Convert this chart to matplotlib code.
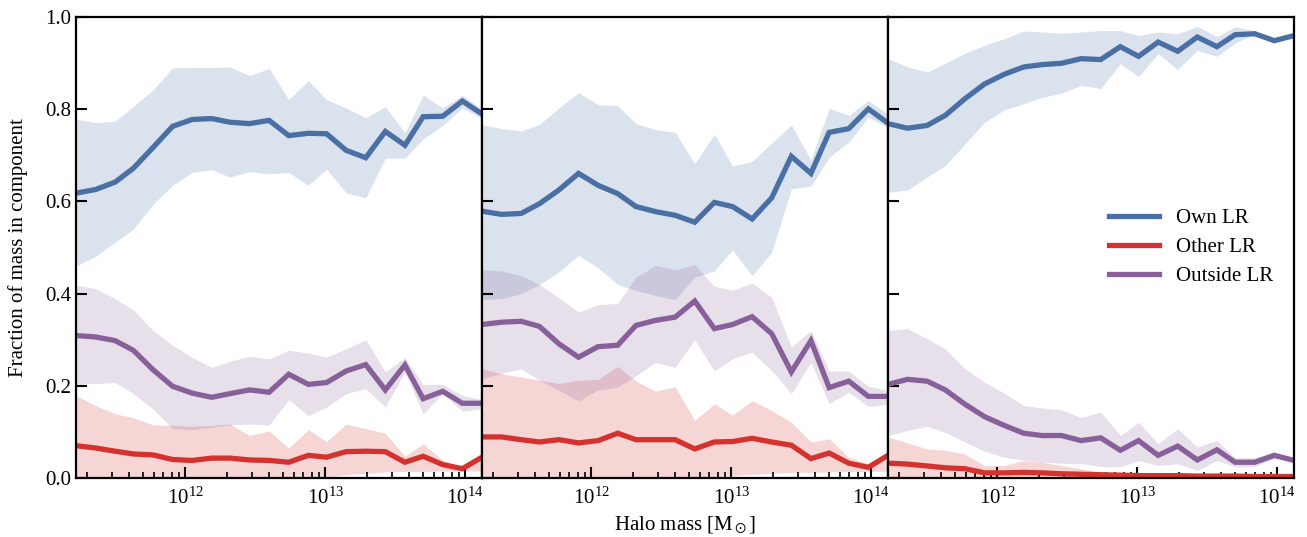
import matplotlib
matplotlib.use("Agg")
import matplotlib.pyplot as plt
import numpy as np

plt.rcParams['font.family'] = ['Liberation Serif', 'DejaVu Serif']
plt.rcParams['mathtext.fontset'] = 'stix'

# halo mass bin centres (log10 Msun), shared by all three panels
log_mass = [11.22, 11.36, 11.50, 11.63, 11.77, 11.91, 12.05, 12.19, 12.32, 12.46, 12.60,
            12.74, 12.88, 13.01, 13.15, 13.29, 13.43, 13.57, 13.70, 13.84, 13.98, 14.12]

# panel 1
own1_med = [0.618, 0.626, 0.642, 0.672, 0.717, 0.763, 0.778, 0.780, 0.772, 0.769, 0.776,
            0.743, 0.748, 0.747, 0.711, 0.695, 0.752, 0.722, 0.784, 0.785, 0.818, 0.790]
own1_hi = [0.779, 0.771, 0.774, 0.806, 0.842, 0.890, 0.891, 0.891, 0.892, 0.873, 0.889,
           0.821, 0.862, 0.821, 0.803, 0.782, 0.806, 0.749, 0.831, 0.803, 0.831, 0.800]
own1_lo = [0.460, 0.481, 0.512, 0.540, 0.594, 0.635, 0.663, 0.669, 0.653, 0.665, 0.660,
           0.663, 0.635, 0.670, 0.619, 0.608, 0.694, 0.694, 0.736, 0.765, 0.803, 0.780]
oth1_med = [0.070, 0.065, 0.058, 0.052, 0.050, 0.040, 0.038, 0.043, 0.043, 0.039, 0.038,
            0.034, 0.049, 0.045, 0.057, 0.058, 0.057, 0.034, 0.047, 0.029, 0.020, 0.045]
oth1_hi = [0.179, 0.157, 0.139, 0.131, 0.115, 0.114, 0.112, 0.114, 0.117, 0.092, 0.102,
           0.065, 0.105, 0.079, 0.117, 0.107, 0.097, 0.047, 0.074, 0.038, 0.024, 0.050]
oth1_lo = [0.0, 0.0, 0.0, 0.0, 0.0, 0.0, 0.0, 0.0, 0.0, 0.0, 0.0,
           0.0, 0.0, 0.002, 0.007, 0.010, 0.013, 0.014, 0.014, 0.015, 0.015, 0.015]
out1_med = [0.309, 0.306, 0.298, 0.277, 0.235, 0.199, 0.184, 0.175, 0.183, 0.191, 0.186,
            0.225, 0.203, 0.207, 0.232, 0.246, 0.191, 0.245, 0.172, 0.188, 0.162, 0.162]
out1_hi = [0.418, 0.411, 0.389, 0.365, 0.320, 0.288, 0.262, 0.240, 0.253, 0.264, 0.258,
           0.277, 0.271, 0.262, 0.280, 0.300, 0.230, 0.261, 0.203, 0.203, 0.179, 0.170]
out1_lo = [0.203, 0.205, 0.207, 0.183, 0.150, 0.107, 0.105, 0.110, 0.115, 0.117, 0.115,
           0.170, 0.135, 0.154, 0.183, 0.194, 0.154, 0.230, 0.139, 0.183, 0.145, 0.150]

# panel 2
own2_med = [0.579, 0.572, 0.574, 0.595, 0.625, 0.661, 0.635, 0.617, 0.589, 0.578, 0.570,
            0.555, 0.598, 0.589, 0.562, 0.608, 0.698, 0.661, 0.750, 0.758, 0.801, 0.770]
own2_hi = [0.767, 0.758, 0.753, 0.767, 0.803, 0.836, 0.810, 0.808, 0.769, 0.756, 0.750,
           0.682, 0.746, 0.677, 0.687, 0.727, 0.766, 0.690, 0.802, 0.787, 0.819, 0.790]
own2_lo = [0.387, 0.389, 0.400, 0.420, 0.447, 0.483, 0.456, 0.420, 0.407, 0.396, 0.387,
           0.436, 0.449, 0.495, 0.439, 0.490, 0.628, 0.633, 0.696, 0.729, 0.783, 0.760]
oth2_med = [0.089, 0.089, 0.083, 0.078, 0.083, 0.076, 0.081, 0.097, 0.083, 0.083, 0.083,
            0.063, 0.078, 0.079, 0.086, 0.078, 0.071, 0.042, 0.054, 0.032, 0.023, 0.049]
oth2_hi = [0.237, 0.226, 0.219, 0.212, 0.205, 0.212, 0.214, 0.242, 0.210, 0.188, 0.198,
           0.125, 0.161, 0.136, 0.168, 0.146, 0.121, 0.078, 0.085, 0.045, 0.031, 0.040]
oth2_lo = [0.0, 0.0, 0.0, 0.0, 0.0, 0.0, 0.0, 0.0, 0.0, 0.0, 0.0,
           0.0, 0.003, 0.005, 0.008, 0.010, 0.012, 0.012, 0.013, 0.014, 0.014, 0.015]
out2_med = [0.333, 0.338, 0.340, 0.329, 0.291, 0.262, 0.285, 0.288, 0.331, 0.342, 0.349,
            0.384, 0.324, 0.333, 0.350, 0.313, 0.230, 0.298, 0.196, 0.210, 0.177, 0.177]
out2_hi = [0.452, 0.449, 0.439, 0.420, 0.391, 0.360, 0.376, 0.379, 0.436, 0.461, 0.452,
           0.463, 0.416, 0.407, 0.423, 0.392, 0.284, 0.320, 0.232, 0.232, 0.199, 0.190]
out2_lo = [0.215, 0.227, 0.237, 0.212, 0.190, 0.167, 0.191, 0.197, 0.222, 0.251, 0.240,
           0.300, 0.232, 0.259, 0.273, 0.233, 0.183, 0.251, 0.161, 0.186, 0.155, 0.160]

# panel 3
own3_med = [0.769, 0.759, 0.765, 0.787, 0.823, 0.855, 0.876, 0.892, 0.897, 0.900, 0.910,
            0.908, 0.936, 0.915, 0.946, 0.926, 0.957, 0.936, 0.962, 0.964, 0.949, 0.960]
own3_hi = [0.910, 0.892, 0.881, 0.900, 0.922, 0.939, 0.953, 0.970, 0.968, 0.965, 0.968,
           0.971, 0.971, 0.960, 0.968, 0.964, 0.980, 0.958, 0.979, 0.971, 0.949, 0.960]
own3_lo = [0.620, 0.625, 0.653, 0.678, 0.725, 0.772, 0.799, 0.812, 0.826, 0.835, 0.852,
           0.845, 0.899, 0.871, 0.921, 0.886, 0.928, 0.915, 0.944, 0.964, 0.949, 0.960]
oth3_med = [0.032, 0.030, 0.026, 0.022, 0.020, 0.011, 0.011, 0.012, 0.011, 0.009, 0.008,
            0.007, 0.006, 0.005, 0.005, 0.005, 0.004, 0.004, 0.004, 0.003, 0.003, 0.003]
oth3_hi = [0.089, 0.076, 0.063, 0.060, 0.052, 0.027, 0.027, 0.038, 0.034, 0.027, 0.020,
           0.012, 0.010, 0.009, 0.008, 0.008, 0.008, 0.010, 0.007, 0.006, 0.006, 0.006]
oth3_lo = [0.0] * 22
out3_med = [0.203, 0.214, 0.210, 0.191, 0.160, 0.133, 0.114, 0.097, 0.092, 0.092, 0.081,
            0.087, 0.060, 0.081, 0.049, 0.069, 0.039, 0.061, 0.034, 0.034, 0.049, 0.038]
out3_hi = [0.320, 0.324, 0.302, 0.280, 0.237, 0.208, 0.184, 0.157, 0.152, 0.148, 0.131,
           0.143, 0.092, 0.121, 0.074, 0.107, 0.067, 0.081, 0.044, 0.044, 0.056, 0.040]
out3_lo = [0.092, 0.103, 0.112, 0.099, 0.078, 0.058, 0.045, 0.039, 0.034, 0.032, 0.031,
           0.025, 0.024, 0.038, 0.027, 0.031, 0.016, 0.038, 0.024, 0.025, 0.042, 0.040]

labels = ['Own LR', 'Other LR', 'Outside LR']
colors = ['#4a6fa5', '#d3322f', '#87609a']

panels = [
    [(own1_med, own1_lo, own1_hi), (oth1_med, oth1_lo, oth1_hi), (out1_med, out1_lo, out1_hi)],
    [(own2_med, own2_lo, own2_hi), (oth2_med, oth2_lo, oth2_hi), (out2_med, out2_lo, out2_hi)],
    [(own3_med, own3_lo, own3_hi), (oth3_med, oth3_lo, oth3_hi), (out3_med, out3_lo, out3_hi)],
]

mass = 10 ** np.array(log_mass)

fig, axes = plt.subplots(1, 3, figsize=(13.07, 5.37), dpi=100, sharey=True)
fig.subplots_adjust(left=0.0581, right=0.990, top=0.968, bottom=0.110, wspace=0)

for ax, comps in zip(axes, panels):
    for (med, lo, hi), lab, c in zip(comps, labels, colors):
        ax.fill_between(mass, lo, hi, color=c, alpha=0.2, lw=0)
        ax.plot(mass, med, color=c, lw=3.8, label=lab, solid_joinstyle='miter')
    ax.set_xscale('log')
    ax.set_xlim(mass[0], mass[-1])
    ax.set_ylim(0, 1)
    ax.set_yticks([0, 0.2, 0.4, 0.6, 0.8, 1.0])
    ax.tick_params(axis='both', which='both', direction='in', labelsize=15)
    ax.tick_params(axis='both', which='major', length=8, width=1.5)
    ax.tick_params(axis='x', which='minor', length=4, width=1.2)
    ax.tick_params(axis='x', pad=7)
    for s in ax.spines.values():
        s.set_linewidth(1.6)

axes[0].set_ylabel('Fraction of mass in component', fontsize=15, labelpad=12)
axes[1].set_xlabel(r'Halo mass [M$_\odot$]', fontsize=15)
axes[2].legend(loc='center right', frameon=False, fontsize=15, handlelength=2.4,
               labelspacing=0.45, borderaxespad=0.6)

fig.savefig('out.png', dpi=100)
